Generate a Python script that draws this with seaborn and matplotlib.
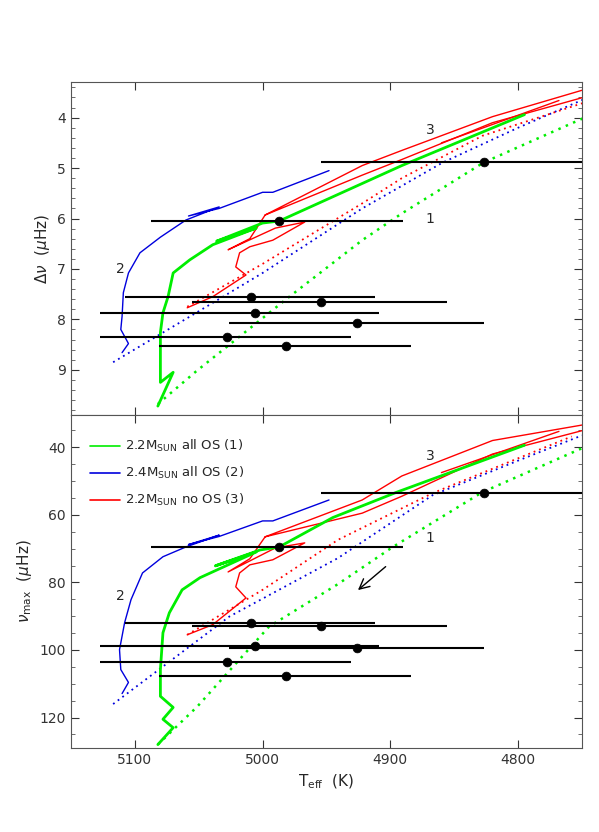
import matplotlib
matplotlib.use("Agg")
import matplotlib.pyplot as plt
import seaborn as sns
import numpy as np

sns.set_style("ticks")
plt.rcParams['font.family'] = ['DejaVu Sans']

# observed stars: Teff, error bar ends, dnu, numax
star_teff = [4987, 5009, 4954, 5006, 4926, 5028, 4982, 4827]
star_tlo = [5084, 5106, 5052, 5103, 5025, 5125, 5080, 4928]
star_thi = [4887, 4910, 4853, 4885, 4826, 4929, 4883, 4700]
star_dnu = [6.05, 7.55, 7.65, 7.88, 8.07, 8.35, 8.53, 4.87]
star_numax = [69.5, 91.9, 92.8, 98.7, 99.3, 103.7, 107.8, 53.6]

# track 1: 2.2 Msun all OS (solid and dotted)
g_t = [5082, 5070, 5080, 5080, 5080, 5078, 5074, 5070, 5057, 5039, 5005, 5036, 5000, 4987, 4891, 4795]
g_dnu = [9.72, 9.05, 9.25, 8.8, 8.26, 7.87, 7.55, 7.08, 6.82, 6.52, 6.19, 6.45, 6.09, 6.05, 4.95, 3.94]
g_t2 = [5082, 5070, 5078, 5070, 5080, 5080, 5078, 5073, 5063, 5049, 5005, 5037, 5002, 4987, 4945, 4895, 4795]
g_numax = [128, 123, 120.5, 117, 113.7, 105.8, 94.9, 89, 82.2, 78.6, 71, 75.1, 70.4, 69.5, 60.8, 53.3, 39.4]
gd_t = [5082, 5052, 4979, 4922, 4891, 4827, 4748]
gd_dnu = [9.68, 9.03, 7.55, 6.43, 5.9, 4.89, 4.0]
gd_t2 = [5082, 5051, 4995, 4941, 4898, 4828, 4750]
gd_numax = [128, 116.7, 93.1, 80.5, 69.5, 53.3, 40.3]

# track 2: 2.4 Msun all OS
b_t = [5110, 5105, 5111, 5110, 5109, 5105, 5096, 5080, 5060, 5034, 5058, 5034, 5000, 4992, 4948]
b_dnu = [8.66, 8.48, 8.2, 7.94, 7.47, 7.08, 6.68, 6.37, 6.03, 5.77, 5.95, 5.8, 5.48, 5.48, 5.05]
b_t2 = [5110, 5105, 5111, 5112, 5108, 5103, 5094, 5078, 5060, 5034, 5058, 5034, 5000, 4992, 4948]
b_numax = [112.9, 109.6, 105.8, 99.9, 91.9, 85.1, 77.2, 72.4, 69.5, 66, 68.8, 66.4, 61.8, 61.8, 55.6]
bd_t = [5117, 5052, 5000, 4922, 4859, 4800, 4748]
bd_dnu = [8.85, 7.87, 7.08, 5.8, 4.89, 4.2, 3.63]
bd_t2 = [5117, 5078, 5026, 4941, 4867, 4799, 4750]
bd_numax = [116, 104.9, 90.1, 72.8, 54.2, 43.8, 36.5]

# track 3: 2.2 Msun no OS
r_t = [5059, 5039, 5013, 5021, 5018, 5010, 4992, 4967, 4990, 5027, 5010, 4998,
       4922, 4891, 4820, 4745, 4745, 4820, 4891, 4922, 4998]
r_dnu = [7.77, 7.55, 7.12, 6.96, 6.68, 6.56, 6.43, 6.07, 6.19, 6.62, 6.4, 5.93,
         5.14, 4.83, 4.1, 3.57, 3.42, 3.98, 4.65, 4.95, 5.93]
r_numax = [95.5, 92.5, 84.6, 81.3, 77.2, 74.8, 73.3, 68.3, 69.8, 76.9, 73.0, 66.5,
           59.5, 54.5, 42.0, 34.6, 33.1, 38.0, 48.5, 55.6, 66.5]
rtip_t = [4860, 4768]
rtip_dnu = [4.5, 3.66]
rtip_numax = [47.5, 35.3]
rd_t = [5059, 5000, 4922, 4891, 4828, 4748]
rd_dnu = [7.75, 6.9, 5.7, 5.2, 4.36, 3.7]
rd_t2 = [5059, 5000, 4941, 4867, 4758]
rd_numax = [95.5, 82.2, 67.4, 53.6, 36.8]

GREEN, BLUE, RED = "#00ee00", "#0000dd", "#ff0000"

fig = plt.figure(figsize=(5.99, 8.32), dpi=100)
ax1 = fig.add_axes([0.1185, 0.501, 0.853, 0.400])
ax2 = fig.add_axes([0.1185, 0.101, 0.853, 0.400])


def track(ax, x, y, color, lw=1.0, dotted=False):
    sns.lineplot(x=x, y=y, ax=ax, color=color, lw=lw, sort=False, estimator=None,
                 linestyle=(0, (1, 2.2)) if dotted else "-", legend=False)


for ax, gt, gy, gdt, gdy, bt, by, bdt, bdy, ry, rty, rdt, rdy, sy in [
        (ax1, g_t, g_dnu, gd_t, gd_dnu, b_t, b_dnu, bd_t, bd_dnu, r_dnu, rtip_dnu, rd_t, rd_dnu, star_dnu),
        (ax2, g_t2, g_numax, gd_t2, gd_numax, b_t2, b_numax, bd_t2, bd_numax, r_numax, rtip_numax, rd_t2, rd_numax, star_numax)]:
    track(ax, bt, by, BLUE)
    track(ax, bdt, bdy, BLUE, lw=1.3, dotted=True)
    track(ax, gdt, gdy, GREEN, lw=1.8, dotted=True)
    track(ax, rdt, rdy, RED, lw=1.3, dotted=True)
    track(ax, r_t, ry, RED)
    track(ax, rtip_t, rty, RED)
    track(ax, gt, gy, GREEN, lw=2.0)
    xerr = [np.array(star_tlo) - np.array(star_teff), np.array(star_teff) - np.array(star_thi)]
    ax.errorbar(star_teff, sy, xerr=np.abs(xerr), fmt="none", ecolor="black", elinewidth=1.5, capsize=0)
    sns.scatterplot(x=star_teff, y=sy, ax=ax, color="black", s=40, edgecolor="black", zorder=5)
    ax.set_xlim(5150, 4750)
    ax.tick_params(direction="in", top=True, right=True, labelsize=10, colors="#333333", length=6)
    ax.tick_params(which="minor", direction="in", right=True, left=True, length=3, colors="#555555")
    for s in ax.spines.values():
        s.set_color("#555555")
    ax.set_xticks([5100, 5000, 4900, 4800])

ax1.set_ylim(9.9, 3.3)
ax1.set_yticks([4, 5, 6, 7, 8, 9])
ax1.set_yticks(np.arange(3.4, 9.9, 0.2), minor=True)
ax1.set_xticklabels([])
ax1.set_ylabel(r"$\Delta\nu$  ($\mu$Hz)", fontsize=11)
ax1.text(4869, 4.24, "3", ha="center", va="center", fontsize=10)
ax1.text(4869, 6.0, "1", ha="center", va="center", fontsize=10)
ax1.text(5111, 7.0, "2", ha="center", va="center", fontsize=10)

ax2.set_ylim(129, 30.5)
ax2.set_yticks([40, 60, 80, 100, 120])
ax2.set_yticks(np.arange(35, 129, 5), minor=True)
ax2.set_ylabel(r"$\nu_{\rm max}$  ($\mu$Hz)", fontsize=11)
ax2.set_xlabel(r"T$_{\rm eff}$  (K)", fontsize=11)
ax2.text(4869, 42.7, "3", ha="center", va="center", fontsize=10)
ax2.text(4869, 66.8, "1", ha="center", va="center", fontsize=10)
ax2.text(5111, 84, "2", ha="center", va="center", fontsize=10)
ax2.annotate("", xy=(4927, 82.8), xytext=(4902, 74.8),
             arrowprops=dict(arrowstyle="->", color="black", lw=1, mutation_scale=18))

legend_labels = [r"2.2M$_{\rm SUN}$ all OS (1)", r"2.4M$_{\rm SUN}$ all OS (2)", r"2.2M$_{\rm SUN}$ no OS (3)"]
for lab, col, yy in zip(legend_labels, [GREEN, BLUE, RED], [0.907, 0.826, 0.745]):
    ax2.plot([0.037, 0.095], [yy, yy], color=col, lw=1.2, transform=ax2.transAxes)
    ax2.text(0.105, yy, lab, transform=ax2.transAxes, va="center", fontsize=9.5)

fig.savefig("out.png", dpi=100)
